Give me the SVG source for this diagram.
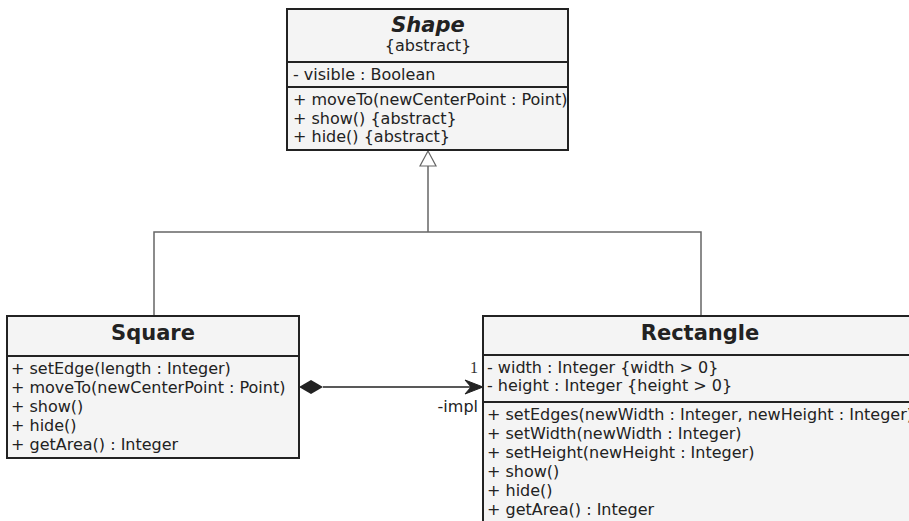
<svg xmlns="http://www.w3.org/2000/svg" width="909" height="521" viewBox="0 0 909 521">
<defs>
<style>
.box{fill:#f4f4f4;stroke:#222;stroke-width:2}
.div{stroke:#222;stroke-width:2}
.t{font-family:"DejaVu Sans",Verdana,sans-serif;font-size:16px;fill:#222}
.title{font-family:"DejaVu Sans",Verdana,sans-serif;font-size:21px;font-weight:bold;fill:#222;text-anchor:middle}
.conn{stroke:#666;stroke-width:1.5;fill:none}
</style>
</defs>
<rect width="909" height="521" fill="#fff"/>
<g id="connectors">
<path class="conn" d="M154,315 V232 H701 V315"/>
<path class="conn" d="M428,232 V166"/>
<path d="M428,151 L420,166 L436,166 Z" fill="#fff" stroke="#666" stroke-width="1.2"/>
<path d="M323,387 H481" stroke="#222" stroke-width="1.5"/>
<path d="M299,387 L311,380 L323,387 L311,394 Z" fill="#222"/>
<path d="M483,387 L465,380 L471,387 L465,394 Z" fill="#222" stroke="#222" stroke-width="1"/>
<text x="470" y="373" font-family="'Liberation Serif',serif" font-size="16" fill="#333">1</text>
<text x="478" y="412" class="t" text-anchor="end">-impl</text>
</g>
<g id="shape">
<rect class="box" x="287" y="9" width="281" height="141"/>
<line class="div" x1="287" y1="62" x2="568" y2="62"/>
<line class="div" x1="287" y1="87" x2="568" y2="87"/>
<text x="428" y="32" class="title" font-style="italic">Shape</text>
<text x="428" y="51" class="t" text-anchor="middle">{abstract}</text>
<text x="293" y="80" class="t">- visible : Boolean</text>
<text x="293" y="105" class="t">+ moveTo(newCenterPoint : Point)</text>
<text x="293" y="124" class="t">+ show() {abstract}</text>
<text x="293" y="142" class="t">+ hide() {abstract}</text>
</g>
<g id="square">
<rect class="box" x="7" y="316" width="292" height="142"/>
<line class="div" x1="7" y1="356" x2="299" y2="356" stroke-width="3"/>
<text x="153" y="340" class="title">Square</text>
<text x="11" y="374" class="t">+ setEdge(length : Integer)</text>
<text x="11" y="393" class="t">+ moveTo(newCenterPoint : Point)</text>
<text x="11" y="412" class="t">+ show()</text>
<text x="11" y="431" class="t">+ hide()</text>
<text x="11" y="450" class="t">+ getArea() : Integer</text>
</g>
<g id="rectangle">
<rect class="box" x="483" y="316" width="440" height="220"/>
<line class="div" x1="483" y1="355" x2="923" y2="355"/>
<line class="div" x1="483" y1="402" x2="923" y2="402"/>
<text x="700" y="340" class="title">Rectangle</text>
<text x="487" y="373" class="t">- width : Integer {width &gt; 0}</text>
<text x="487" y="391" class="t">- height : Integer {height &gt; 0}</text>
<text x="487" y="420" class="t">+ setEdges(newWidth : Integer, newHeight : Integer)</text>
<text x="487" y="439" class="t">+ setWidth(newWidth : Integer)</text>
<text x="487" y="458" class="t">+ setHeight(newHeight : Integer)</text>
<text x="487" y="477" class="t">+ show()</text>
<text x="487" y="496" class="t">+ hide()</text>
<text x="487" y="515" class="t">+ getArea() : Integer</text>
</g>
</svg>
